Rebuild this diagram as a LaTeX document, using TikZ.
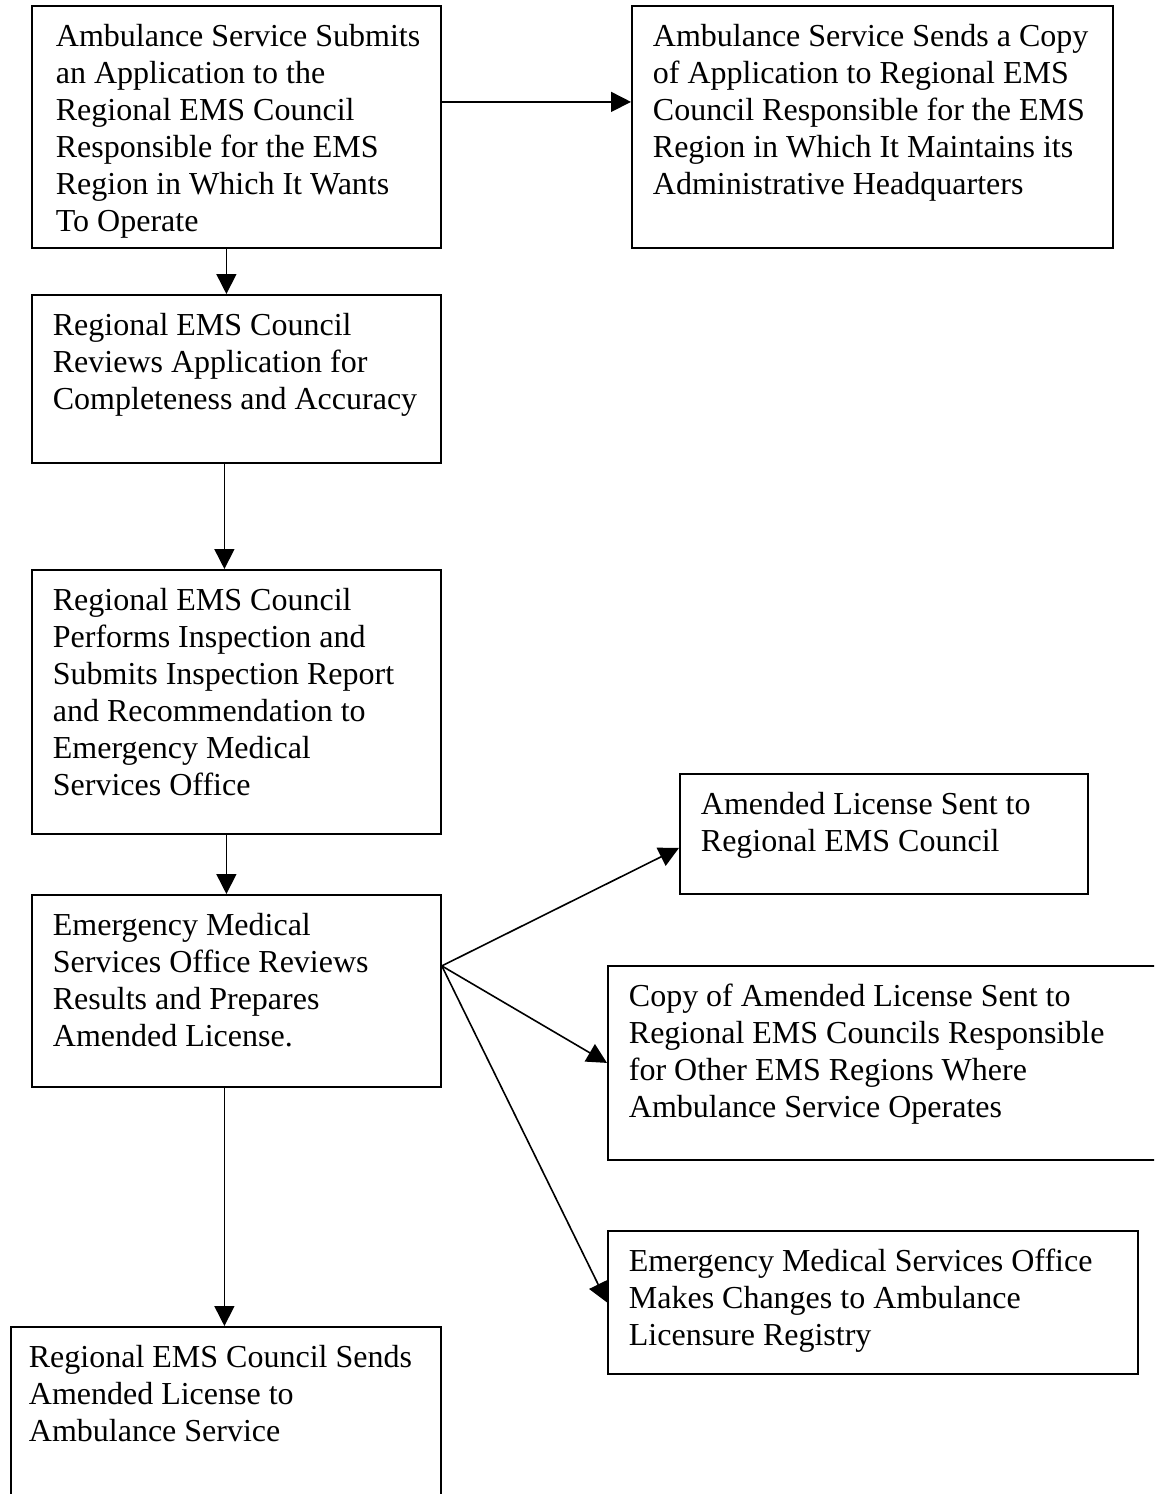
\documentclass[tikz,border=0pt]{standalone}
\usepackage{fontspec}
\setmainfont{Liberation Serif}
\usetikzlibrary{arrows.meta}
\newcommand\bxtext[4]{\begin{minipage}[t][#2][t]{#1}\setlength\leftskip{#3}\fontsize{32}{37}\selectfont\rule{0pt}{41pt}#4\end{minipage}}
\begin{document}
\begin{tikzpicture}[x=1pt,y=-1pt,
  flowbox/.style={draw, line width=1.8pt, anchor=north west, inner sep=0pt, align=left},
  arr/.style={line width=1.6pt, -{Triangle[length=20pt,width=20pt]}}]
\useasboundingbox (0,0) rectangle (1154,1494);
\clip (0,0) rectangle (1154,1494);
\node[flowbox] (b1) at (31,5) {\bxtext{409pt}{242pt}{24pt}{Ambulance Service Submits\\an Application to the\\Regional EMS Council\\Responsible for the EMS\\Region in Which It Wants\\To Operate}};
\node[flowbox] (b2) at (631,5) {\bxtext{481pt}{242pt}{21pt}{Ambulance Service Sends a Copy\\of Application to Regional EMS\\Council Responsible for the EMS\\Region in Which It Maintains its\\Administrative Headquarters}};
\node[flowbox] (b3) at (31,294) {\bxtext{409pt}{168pt}{21pt}{Regional EMS Council\\Reviews Application for\\Completeness and Accuracy}};
\node[flowbox] (b4) at (31,569) {\bxtext{409pt}{264pt}{21pt}{Regional EMS Council\\Performs Inspection and\\Submits Inspection Report\\and Recommendation to\\Emergency Medical\\Services Office}};
\node[flowbox] (b5) at (31,894) {\bxtext{409pt}{192pt}{21pt}{Emergency Medical\\Services Office Reviews\\Results and Prepares\\Amended License.}};
\node[flowbox] (b6) at (679,773) {\bxtext{408pt}{120pt}{21pt}{Amended License Sent to\\Regional EMS Council}};
\node[flowbox] (b7) at (607,965) {\bxtext{580pt}{194pt}{21pt}{Copy of Amended License Sent to\\Regional EMS Councils Responsible\\for Other EMS Regions Where\\Ambulance Service Operates}};
\node[flowbox] (b8) at (607,1230) {\bxtext{530pt}{143pt}{21pt}{Emergency Medical Services Office\\Makes Changes to Ambulance\\Licensure Registry}};
\node[flowbox] (b9) at (10,1326) {\bxtext{430pt}{190pt}{18pt}{Regional EMS Council Sends\\Amended License to\\Ambulance Service}};
\draw[arr] ([yshift=25pt]b1.east) -- ([yshift=25pt]b2.west);
\draw[arr] ([xshift=-10pt]b1.south) -- ([xshift=-10pt]b3.north);
\draw[arr] ([xshift=-12pt]b3.south) -- ([xshift=-12pt]b4.north);
\draw[arr] ([xshift=-10pt]b4.south) -- ([xshift=-10pt]b5.north);
\draw[arr] ([xshift=-12pt]b5.south) -- ([xshift=-12pt]b5.south |- b9.north);
\draw[arr] ([yshift=25pt]b5.east) -- ([yshift=-14pt]b6.west);
\draw[arr] ([yshift=25pt]b5.east) -- (b7.west);
\draw[arr] ([yshift=25pt]b5.east) -- (b8.west);
\end{tikzpicture}
\end{document}
